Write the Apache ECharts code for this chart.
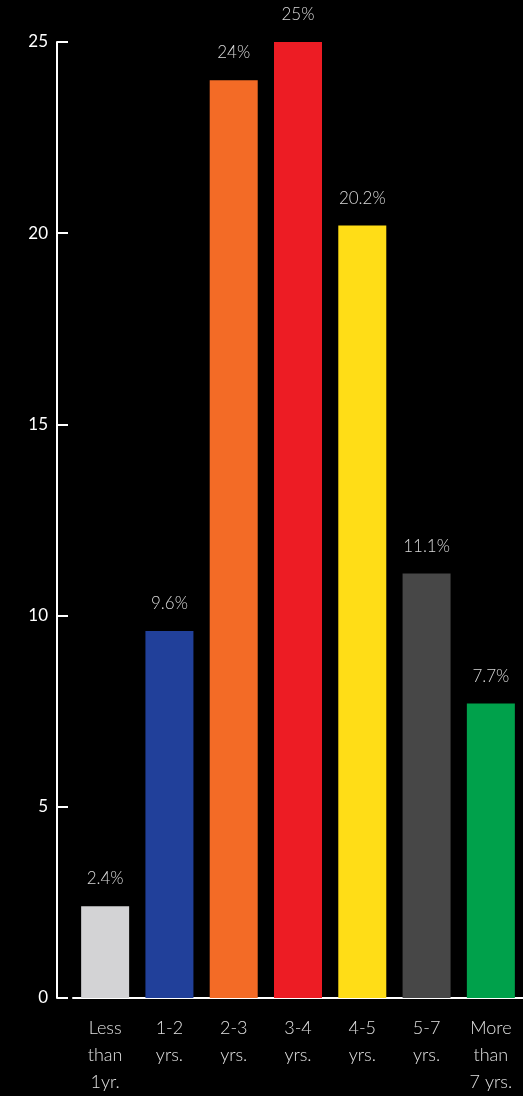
<!DOCTYPE html>
<html><head><meta charset="utf-8">
<script src="https://cdn.jsdelivr.net/npm/echarts@6/dist/echarts.min.js"></script>
<style>html,body{margin:0;padding:0;background:#000;}#c{width:523px;height:1096px;}</style>
</head><body><div id="c"></div>
<script>
var categories = ['Less\nthan\n1yr.', '1-2\nyrs.', '2-3\nyrs.', '3-4\nyrs.', '4-5\nyrs.', '5-7\nyrs.', 'More\nthan\n7 yrs.'];
var values = [2.4, 9.6, 24, 25, 20.2, 11.1, 7.7];
var valueLabels = ['2.4%', '9.6%', '24%', '25%', '20.2%', '11.1%', '7.7%'];
var colors = ['#d3d3d5', '#21409a', '#f36b26', '#ed1c24', '#ffdd17', '#474747', '#00a14b'];
var yTicks = [0, 5, 10, 15, 20, 25];

var chart = echarts.init(document.getElementById('c'));
chart.setOption({
  backgroundColor: '#000',
  animation: false,
  grid: { left: 73, right: 0, top: 42, bottom: 91 },
  xAxis: {
    type: 'category',
    data: categories,
    axisLine: { show: true, lineStyle: { color: '#fff', width: 2 } },
    axisTick: { show: false },
    axisLabel: { color: '#e0e0e0', fontSize: 18, lineHeight: 27, margin: 17, fontFamily: 'Lato', fontWeight: 300, interval: 0 }
  },
  yAxis: {
    type: 'value',
    min: 0, max: 25, interval: 5,
    offset: 16,
    splitLine: { show: false },
    axisLine: { show: true, lineStyle: { color: '#fff', width: 2 } },
    axisTick: { show: true, inside: true, length: 11, lineStyle: { color: '#fff', width: 2 } },
    axisLabel: { color: '#fff', fontSize: 17, margin: 9, fontFamily: 'Lato',
      formatter: function (v) { return yTicks.indexOf(v) >= 0 ? String(v) : ''; } }
  },
  series: [{
    type: 'bar',
    barWidth: 48,
    data: values.map(function (v, i) { return { value: v, itemStyle: { color: colors[i] } }; }),
    label: {
      show: true, position: 'top', distance: 19, color: '#d8d8d8', fontSize: 17, fontFamily: 'Lato', fontWeight: 300,
      formatter: function (p) { return valueLabels[p.dataIndex]; }
    }
  }]
});
</script></body></html>
